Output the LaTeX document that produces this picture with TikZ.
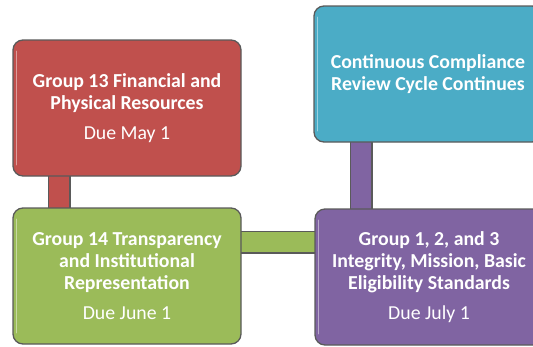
\documentclass[tikz,border=0pt]{standalone}
\usepackage{fontspec}
\setmainfont{Carlito}
\usetikzlibrary{backgrounds}
\definecolor{cred}{HTML}{C0504D}
\definecolor{cgreen}{HTML}{9BBB59}
\definecolor{cpurple}{HTML}{8064A2}
\definecolor{cteal}{HTML}{4BACC6}
\definecolor{edge}{HTML}{5A5A5A}
\tikzset{
  card/.style={draw=edge, line width=1.3pt, rounded corners=10pt,
    minimum width=228pt, minimum height=136pt, inner sep=0pt,
    text=white, align=center, font=\fontsize{19.8}{22}\selectfont},
  barout/.style={line width=23pt, draw=edge},
  barin/.style={line width=20.4pt, draw=#1},
  shine/.style={draw=white, opacity=0.45, line width=1.6pt, line cap=round},
}
\newcommand{\due}[1]{\\[8pt]{\normalfont\fontsize{19.8}{22}\selectfont #1}}
\newcommand{\shineleft}[1]{\draw[shine] ([shift={(4,12)}]#1.north west) -- ([shift={(4,-12)}]#1.south west);}
\begin{document}
\begin{tikzpicture}[x=1pt,y=-1pt]
\useasboundingbox (0,0) rectangle (533,346);
\node[card, fill=cred] (red) at (127,108)
  {\bfseries Group 13 Financial and\\\bfseries Physical Resources\due{Due May 1}};
\node[card, fill=cgreen] (green) at (127,276)
  {\bfseries Group 14 Transparency\\\bfseries and Institutional\\\bfseries Representation\due{Due June 1}};
\node[card, fill=cpurple] (purple) at (429,277)
  {\bfseries Group 1, 2, and 3\\\bfseries Integrity, Mission, Basic\\\bfseries Eligibility Standards\due{Due July 1}};
\node[card, fill=cteal] (teal) at (428,74)
  {\bfseries Continuous Compliance\\\bfseries Review Cycle Continues};
\shineleft{red}
\shineleft{green}
\shineleft{purple}
\shineleft{teal}
\coordinate (rbx) at (59,0);
\coordinate (gby) at (0,242);
\coordinate (pbx) at (361,0);
\begin{scope}[on background layer]
  \draw[barout] (red.center -| rbx) -- (green.center -| rbx);
  \draw[barin=cred] (red.center -| rbx) -- (green.center -| rbx);
  \draw[barout] (green.center |- gby) -- (purple.center |- gby);
  \draw[barin=cgreen] (green.center |- gby) -- (purple.center |- gby);
  \draw[barout] (purple.center -| pbx) -- (teal.center -| pbx);
  \draw[barin=cpurple] (purple.center -| pbx) -- (teal.center -| pbx);
\end{scope}
\end{tikzpicture}
\end{document}
